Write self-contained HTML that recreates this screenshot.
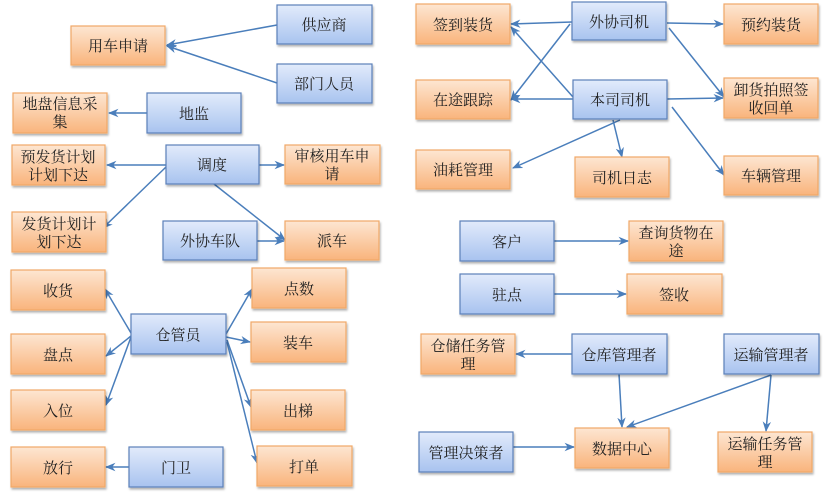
<!DOCTYPE html>
<html><head><meta charset="utf-8"><style>
html,body{margin:0;padding:0;background:#fff;}
svg{display:block;}
text{font-family:"Liberation Serif","Noto Serif CJK SC",serif;font-size:15px;fill:#222;text-anchor:middle;}
</style></head><body>
<svg width="830" height="497" viewBox="0 0 830 497" xmlns="http://www.w3.org/2000/svg">
<defs>
<linearGradient id="gb" x1="0" y1="0" x2="0" y2="1"><stop offset="0" stop-color="#e2ebfb"/><stop offset="1" stop-color="#a8c3ef"/></linearGradient>
<linearGradient id="go" x1="0" y1="0" x2="0" y2="1"><stop offset="0" stop-color="#fde6d2"/><stop offset="1" stop-color="#f9b47c"/></linearGradient>
<marker id="a" viewBox="0 0 10 10" refX="9" refY="5" markerWidth="7" markerHeight="7" orient="auto"><path d="M0,1 L10,5 L0,9 L3,5 z" fill="#4a7ebb"/></marker>
<filter id="sh" x="-10%" y="-10%" width="130%" height="140%"><feDropShadow dx="1" dy="2" stdDeviation="1" flood-color="#000" flood-opacity="0.3"/></filter>
</defs>
<g stroke="#4a7ebb" stroke-width="1.5" fill="none" marker-end="url(#a)">
<line x1="277" y1="25" x2="167" y2="45"/>
<line x1="277" y1="83" x2="167" y2="46"/>
<line x1="147" y1="113" x2="109" y2="113"/>
<line x1="166" y1="165" x2="107" y2="165"/>
<line x1="166" y1="167" x2="103" y2="228"/>
<line x1="259" y1="165" x2="284" y2="165"/>
<line x1="214" y1="184" x2="285" y2="240"/>
<line x1="257" y1="241" x2="284" y2="241"/>
<line x1="131" y1="333" x2="105" y2="289"/>
<line x1="131" y1="336" x2="106" y2="356"/>
<line x1="131" y1="337" x2="106" y2="405"/>
<line x1="226" y1="334" x2="252" y2="289"/>
<line x1="226" y1="337" x2="250" y2="342"/>
<line x1="227" y1="340" x2="251" y2="407"/>
<line x1="227" y1="342" x2="257" y2="463"/>
<line x1="129" y1="467" x2="106" y2="467"/>
<line x1="572" y1="22" x2="511" y2="24"/>
<line x1="570" y1="24" x2="511" y2="100"/>
<line x1="667" y1="23" x2="723" y2="24"/>
<line x1="669" y1="28" x2="724" y2="97"/>
<line x1="573" y1="99" x2="511" y2="99"/>
<line x1="573" y1="97" x2="511" y2="27"/>
<line x1="667" y1="99" x2="723" y2="98"/>
<line x1="620" y1="120" x2="513" y2="168"/>
<line x1="613" y1="120" x2="622" y2="157"/>
<line x1="672" y1="107" x2="724" y2="175"/>
<line x1="554" y1="241" x2="628" y2="241"/>
<line x1="554" y1="294" x2="626" y2="294"/>
<line x1="572" y1="354" x2="516" y2="354"/>
<line x1="619" y1="374" x2="622" y2="427"/>
<line x1="771" y1="375" x2="627" y2="427"/>
<line x1="771" y1="375" x2="766" y2="431"/>
<line x1="513" y1="447" x2="574" y2="447"/>
</g>
<g stroke-width="1.2" filter="url(#sh)">
<g fill="url(#go)" stroke="#f0a868">
<rect x="71" y="26" width="94" height="39"/>
<rect x="13" y="93" width="94" height="40"/>
<rect x="12" y="145" width="93" height="40"/>
<rect x="285" y="145" width="95" height="39"/>
<rect x="12" y="212" width="94" height="40"/>
<rect x="285" y="221" width="94" height="39"/>
<rect x="11" y="270" width="94" height="40"/>
<rect x="252" y="268" width="94" height="40"/>
<rect x="11" y="334" width="94" height="40"/>
<rect x="251" y="322" width="95" height="40"/>
<rect x="11" y="390" width="94" height="40"/>
<rect x="251" y="390" width="94" height="40"/>
<rect x="257" y="446" width="95" height="40"/>
<rect x="11" y="447" width="94" height="40"/>
<rect x="416" y="4" width="94" height="40"/>
<rect x="724" y="4" width="94" height="40"/>
<rect x="416" y="80" width="94" height="39"/>
<rect x="724" y="78" width="94" height="40"/>
<rect x="416" y="150" width="94" height="39"/>
<rect x="575" y="157" width="94" height="40"/>
<rect x="724" y="156" width="94" height="39"/>
<rect x="629" y="221" width="94" height="40"/>
<rect x="627" y="274" width="95" height="40"/>
<rect x="421" y="334" width="94" height="40"/>
<rect x="575" y="428" width="94" height="40"/>
<rect x="718" y="432" width="94" height="40"/>
</g>
<g fill="url(#gb)" stroke="#5b80b9">
<rect x="277" y="5" width="95" height="39"/>
<rect x="277" y="64" width="95" height="39"/>
<rect x="147" y="93" width="94" height="40"/>
<rect x="166" y="145" width="93" height="39"/>
<rect x="163" y="221" width="94" height="39"/>
<rect x="131" y="314" width="95" height="40"/>
<rect x="129" y="447" width="94" height="40"/>
<rect x="572" y="2" width="94" height="38"/>
<rect x="573" y="80" width="94" height="39"/>
<rect x="460" y="221" width="94" height="40"/>
<rect x="460" y="274" width="94" height="40"/>
<rect x="572" y="334" width="95" height="40"/>
<rect x="724" y="334" width="95" height="40"/>
<rect x="419" y="432" width="94" height="40"/>
</g>
</g>
<g>
<text x="118" y="51">用车申请</text>
<text x="324" y="30">供应商</text>
<text x="324" y="89">部门人员</text>
<text x="60" y="109">地盘信息采</text><text x="60" y="127">集</text>
<text x="194" y="119">地监</text>
<text x="58" y="162">预发货计划</text><text x="58" y="180">计划下达</text>
<text x="212" y="170">调度</text>
<text x="332" y="161">审核用车申</text><text x="332" y="179">请</text>
<text x="59" y="229">发货计划计</text><text x="59" y="247">划下达</text>
<text x="210" y="246">外协车队</text>
<text x="332" y="246">派车</text>
<text x="58" y="296">收货</text>
<text x="299" y="294">点数</text>
<text x="178" y="340">仓管员</text>
<text x="58" y="360">盘点</text>
<text x="298" y="348">装车</text>
<text x="58" y="416">入位</text>
<text x="298" y="416">出梯</text>
<text x="304" y="472">打单</text>
<text x="58" y="473">放行</text>
<text x="176" y="473">门卫</text>
<text x="463" y="30">签到装货</text>
<text x="619" y="27">外协司机</text>
<text x="771" y="30">预约装货</text>
<text x="463" y="105">在途跟踪</text>
<text x="620" y="105">本司司机</text>
<text x="771" y="95">卸货拍照签</text><text x="771" y="113">收回单</text>
<text x="463" y="175">油耗管理</text>
<text x="622" y="183">司机日志</text>
<text x="771" y="181">车辆管理</text>
<text x="507" y="247">客户</text>
<text x="676" y="238">查询货物在</text><text x="676" y="256">途</text>
<text x="507" y="300">驻点</text>
<text x="674" y="300">签收</text>
<text x="468" y="351">仓储任务管</text><text x="468" y="369">理</text>
<text x="619" y="360">仓库管理者</text>
<text x="771" y="360">运输管理者</text>
<text x="466" y="458">管理决策者</text>
<text x="622" y="454">数据中心</text>
<text x="765" y="449">运输任务管</text><text x="765" y="467">理</text>
</g>
</svg>
</body></html>
